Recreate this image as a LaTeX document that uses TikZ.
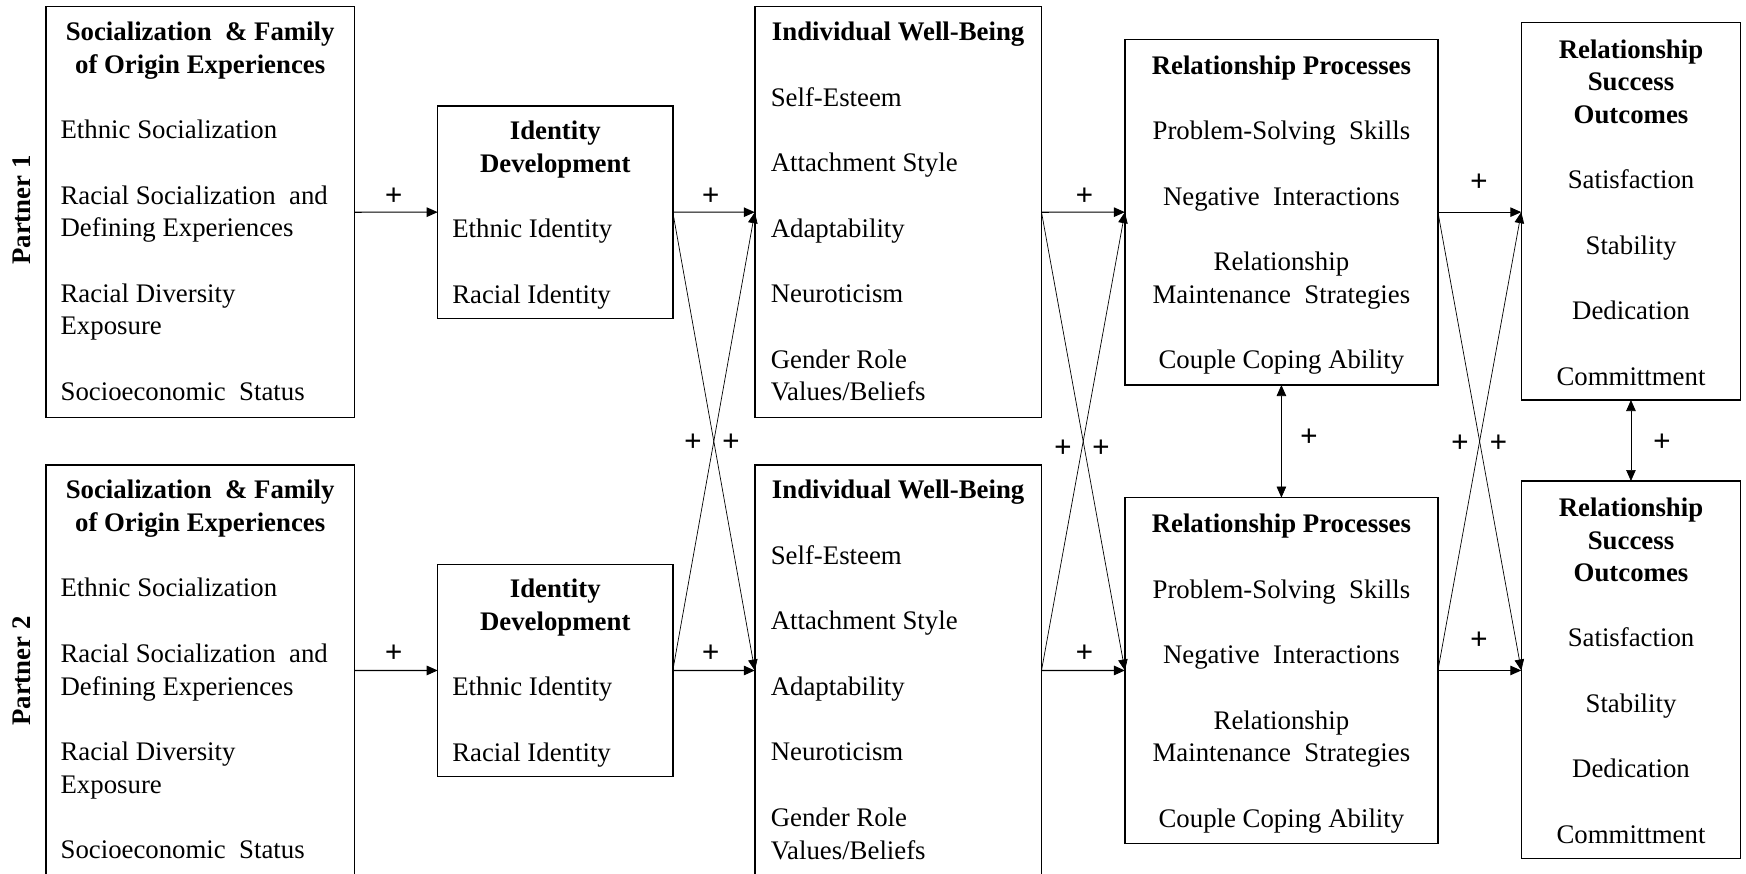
\documentclass[tikz,border=0pt]{standalone}
\usepackage{fontspec}
\setmainfont{Liberation Serif}
\usetikzlibrary{arrows.meta}
\newcommand\myfs{\fontsize{26.8}{32}\selectfont}
\newcommand\partnerrow[1]{%
  % Socialization box
  \node[box, minimum width=308.3pt, minimum height=411pt] (A#1) at (200.15,212.2) {};
  \node[ttl] (A#1h1) at (200.15,40.5) {Socialization\ \ \& Family};
  \node[ttl] (A#1h2) at (200.15,73.2) {of Origin Experiences};
  \node[ltxt] (A#1i1) at (60.6,138.6) {Ethnic Socialization};
  \node[ltxt] (A#1i2) at (60.6,204) {Racial Socialization\ \ and};
  \node[ltxt] (A#1i3) at (60.6,236.7) {Defining Experiences};
  \node[ltxt] (A#1i4) at (60.6,302) {Racial Diversity};
  \node[ltxt] (A#1i5) at (60.6,334.8) {Exposure};
  \node[ltxt] (A#1i6) at (60.6,400) {Socioeconomic\ \ Status};
  % Identity box
  \node[box, minimum width=235.1pt, minimum height=212.3pt] (B#1) at (555.25,212.15) {};
  \node[ttl] (B#1h1) at (555.25,139.5) {Identity};
  \node[ttl] (B#1h2) at (555.25,172) {Development};
  \node[ltxt] (B#1i1) at (452.3,237.5) {Ethnic Identity};
  \node[ltxt] (B#1i2) at (452.3,303) {Racial Identity};
  % Well-being box
  \node[box, minimum width=286.7pt, minimum height=411pt] (C#1) at (898.15,212.2) {};
  \node[ttl] (C#1h1) at (898.15,40.5) {Individual Well-Being};
  \node[ltxt] (C#1i1) at (770.8,106) {Self-Esteem};
  \node[ltxt] (C#1i2) at (770.8,171.5) {Attachment Style};
  \node[ltxt] (C#1i3) at (770.8,237) {Adaptability};
  \node[ltxt] (C#1i4) at (770.8,302.5) {Neuroticism};
  \node[ltxt] (C#1i5) at (770.8,368) {Gender Role};
  \node[ltxt] (C#1i6) at (770.8,400.7) {Values/Beliefs};
  % Relationship processes box
  \node[box, minimum width=313pt, minimum height=345.7pt] (D#1) at (1281.4,212.15) {};
  \node[ttl] (D#1h1) at (1281.4,74.5) {Relationship Processes};
  \node[ctxt] (D#1i1) at (1281.4,139.8) {Problem-Solving\ \ Skills};
  \node[ctxt] (D#1i2) at (1281.4,205.2) {Negative\ \ Interactions};
  \node[ctxt] (D#1i3) at (1281.4,270.7) {Relationship};
  \node[ctxt] (D#1i4) at (1281.4,303.3) {Maintenance\ \ Strategies};
  \node[ctxt] (D#1i5) at (1281.4,368.8) {Couple Coping Ability};
  % Outcomes box
  \node[box, minimum width=219.3pt, minimum height=377.3pt] (E#1) at (1630.95,211.35) {};
  \node[ttl] (E#1h1) at (1631,58) {Relationship};
  \node[ttl] (E#1h2) at (1631,90.7) {Success};
  \node[ttl] (E#1h3) at (1631,123.4) {Outcomes};
  \node[ctxt] (E#1i1) at (1631,188.6) {Satisfaction};
  \node[ctxt] (E#1i2) at (1631,254) {Stability};
  \node[ctxt] (E#1i3) at (1631,319.5) {Dedication};
  \node[ctxt] (E#1i4) at (1631,385) {Committment};
}
\begin{document}
\begin{tikzpicture}[x=1pt,y=-1pt,
  box/.style={draw, line width=1.5pt, inner sep=0pt, outer sep=0pt},
  ltxt/.style={inner sep=0pt, outer sep=0pt, font=\myfs, anchor=base west},
  ctxt/.style={inner sep=0pt, outer sep=0pt, font=\myfs, anchor=base},
  ttl/.style={inner sep=0pt, outer sep=0pt, font=\myfs\bfseries, anchor=base},
  lbl/.style={inner sep=0pt, font=\myfs\bfseries},
  plus/.style={inner sep=0pt, font=\fontsize{31}{32}\selectfont\bfseries},
  harr/.style={-{Triangle[length=11pt,width=9.5pt]}, line width=1.1pt},
  xarr/.style={-{Triangle[length=11pt,width=9.5pt]}, line width=0.7pt},
  varr/.style={{Triangle[length=11pt,width=9.5pt]}-{Triangle[length=11pt,width=9.5pt]}, line width=0.7pt},
]
\useasboundingbox (0,0) rectangle (1746,873);
\partnerrow{1}
\begin{scope}[yshift=-458.3pt]
\partnerrow{2}
\end{scope}

% partner labels
\node[lbl, rotate=90] (P1) at (22,210) {Partner 1};
\node[lbl, rotate=90] (P2) at (22,671) {Partner 2};

% horizontal arrows
\foreach \r in {1,2}{
  \draw[harr] (A\r.east) -- (B\r.west);
  \draw[harr] (B\r.east) -- (C\r.west);
  \draw[harr] (C\r.east) -- (D\r.west);
  \draw[harr] (D\r.east) -- (D\r.east -| E\r.west);
}
% crossing arrows
\draw[xarr] (B1.east) -- (C2.west);
\draw[xarr] (B2.east) -- (C1.west);
\draw[xarr] (C1.east) -- (D2.west);
\draw[xarr] (C2.east) -- (D1.west);
\draw[xarr] (D1.east) -- (D2.east -| E2.west);
\draw[xarr] (D2.east) -- (D1.east -| E1.west);
% vertical double arrows
\draw[varr] (D1.south) -- (D2.north);
\draw[varr] (E1.south) -- (E2.north);

% plus signs
\node[plus] (s1) at (393.6,197) {+};
\node[plus] (s2) at (710.6,197) {+};
\node[plus] (s3) at (1084.4,197) {+};
\node[plus] (s4) at (1479,182.7) {+};
\node[plus] (s5) at (393.6,654) {+};
\node[plus] (s6) at (710.6,654) {+};
\node[plus] (s7) at (1084.4,654) {+};
\node[plus] (s8) at (1479,641) {+};
\node[plus] (x1) at (693,443) {+};
\node[plus] (x2) at (731,443) {+};
\node[plus] (x3) at (1063,449) {+};
\node[plus] (x4) at (1101,449) {+};
\node[plus] (x5) at (1460,444) {+};
\node[plus] (x6) at (1498.5,444) {+};
\node[plus] (v1) at (1309,438) {+};
\node[plus] (v2) at (1662,443) {+};
\end{tikzpicture}
\end{document}
